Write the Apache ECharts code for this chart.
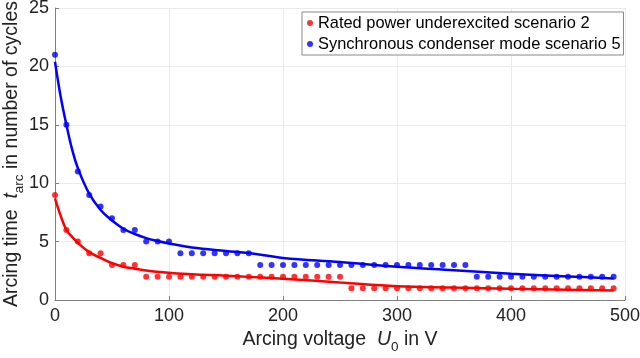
<!DOCTYPE html>
<html><head><meta charset="utf-8">
<script src="https://cdn.jsdelivr.net/npm/echarts@6/dist/echarts.min.js"></script>
<style>html,body{margin:0;padding:0;background:#fff}#c{width:640px;height:358px}</style>
</head><body><div id="c"></div>
<script>
const voltages = [0,10,20,30,40,50,60,70,80,90,100,110,120,130,140,150,160,170,180,190,200,210,220,230,240,250,260,270,280,290,300,310,320,330,340,350,360,370,380,390,400,410,420,430,440,450,460,470,480,490];
const redValues = [9,6,5,4,4,3,3,3,2,2,2,2,2,2,2,2,2,2,2,2,2,2,2,2,2,2,1,1,1,1,1,1,1,1,1,1,1,1,1,1,1,1,1,1,1,1,1,1,1,1];
const blueValues = [21,15,11,9,8,7,6,6,5,5,5,4,4,4,4,4,4,4,3,3,3,3,3,3,3,3,3,3,3,3,3,3,3,3,3,3,3,2,2,2,2,2,2,2,2,2,2,2,2,2];
const fitX = [0,5,10,15,20,30,40,50,60,70,80,90,100,120,150,170,200,250,300,350,400,450,490];
const redFit = [8.7,7.2,6.0,5.4,4.9,4.1,3.6,3.15,2.85,2.68,2.52,2.42,2.33,2.2,2.08,1.98,1.82,1.5,1.18,1.06,0.96,0.88,0.82];
const blueFit = [20.4,17.4,15.0,12.9,11.3,9.1,7.7,6.8,6.1,5.65,5.3,5.05,4.84,4.5,4.2,4.02,3.6,3.25,2.85,2.55,2.25,2.02,1.85];
const xTicks = [0,100,200,300,400,500];
const yTicks = [0,5,10,15,20,25];
const names = ['Rated power underexcited scenario 2','Synchronous condenser mode scenario 5'];

const font = 'Liberation Sans, Arial, sans-serif';
const pair = (xs, ys) => xs.map((x,i)=>[x, ys[i]]);
const chart = echarts.init(document.getElementById('c'));
chart.setOption({
  animation:false,
  textStyle:{fontFamily:font},
  grid:{left:55,right:15,top:8,bottom:58,containLabel:false,outerBoundsMode:'none'},
  legend:{
    data:names, orient:'vertical', left:302, top:12,
    icon:'circle', itemWidth:6, itemHeight:6, itemGap:3,
    padding:[2,3,2,5],
    borderColor:'#888', borderWidth:1, backgroundColor:'#fff',
    textStyle:{fontFamily:font, fontSize:16.4, color:'#000', lineHeight:18}
  },
  xAxis:{
    type:'value', min:xTicks[0], max:xTicks[xTicks.length-1], interval:100,
    name:'{n|Arcing voltage  }{i|U}{s|0}{n| in V}', nameLocation:'middle', nameGap:27, nameMoveOverlap:false,
    nameTextStyle:{rich:{
      n:{fontFamily:font,fontSize:19.5,color:'#222',lineHeight:26},
      i:{fontFamily:font,fontSize:19.5,fontStyle:'italic',color:'#222',lineHeight:26},
      s:{fontFamily:font,fontSize:13.5,color:'#222',lineHeight:26,padding:[14,0,0,0]}
    }},
    axisLine:{onZero:false,lineStyle:{color:'#808080',width:1}},
    axisTick:{inside:true,length:4,lineStyle:{color:'#808080'}},
    axisLabel:{fontFamily:font,fontSize:18,color:'#222',margin:7},
    splitLine:{show:true,lineStyle:{color:'#ebebeb',width:1}}
  },
  yAxis:{
    type:'value', min:yTicks[0], max:yTicks[yTicks.length-1], interval:5,
    name:'{n|Arcing time  }{i|t}{s|arc}{n| in number of cycles}', nameLocation:'middle', nameGap:30, nameRotate:90, nameMoveOverlap:false,
    nameTextStyle:{rich:{
      n:{fontFamily:font,fontSize:19.5,color:'#222',lineHeight:26},
      i:{fontFamily:font,fontSize:19.5,fontStyle:'italic',color:'#222',lineHeight:26},
      s:{fontFamily:font,fontSize:13.5,color:'#222',lineHeight:26,padding:[14,0,0,0]}
    }},
    axisLine:{show:true,lineStyle:{color:'#808080',width:1}},
    axisTick:{show:true,inside:true,length:4,lineStyle:{color:'#808080'}},
    axisLabel:{fontFamily:font,fontSize:18,color:'#222',margin:6},
    splitLine:{show:true,lineStyle:{color:'#ebebeb',width:1}}
  },
  series:[
    {name:names[0],type:'scatter',data:pair(voltages,redValues),symbol:'circle',symbolSize:6,itemStyle:{color:'#ff0000'},z:3},
    {name:names[1],type:'scatter',data:pair(voltages,blueValues),symbol:'circle',symbolSize:6,itemStyle:{color:'#0000ff'},z:3},
    {name:'redFit',type:'line',data:pair(fitX,redFit),smooth:0.4,showSymbol:false,lineStyle:{color:'#ff0000',width:2.5},z:2},
    {name:'blueFit',type:'line',data:pair(fitX,blueFit),smooth:0.4,showSymbol:false,lineStyle:{color:'#0000ff',width:2.5},z:2}
  ]
});
</script></body></html>
